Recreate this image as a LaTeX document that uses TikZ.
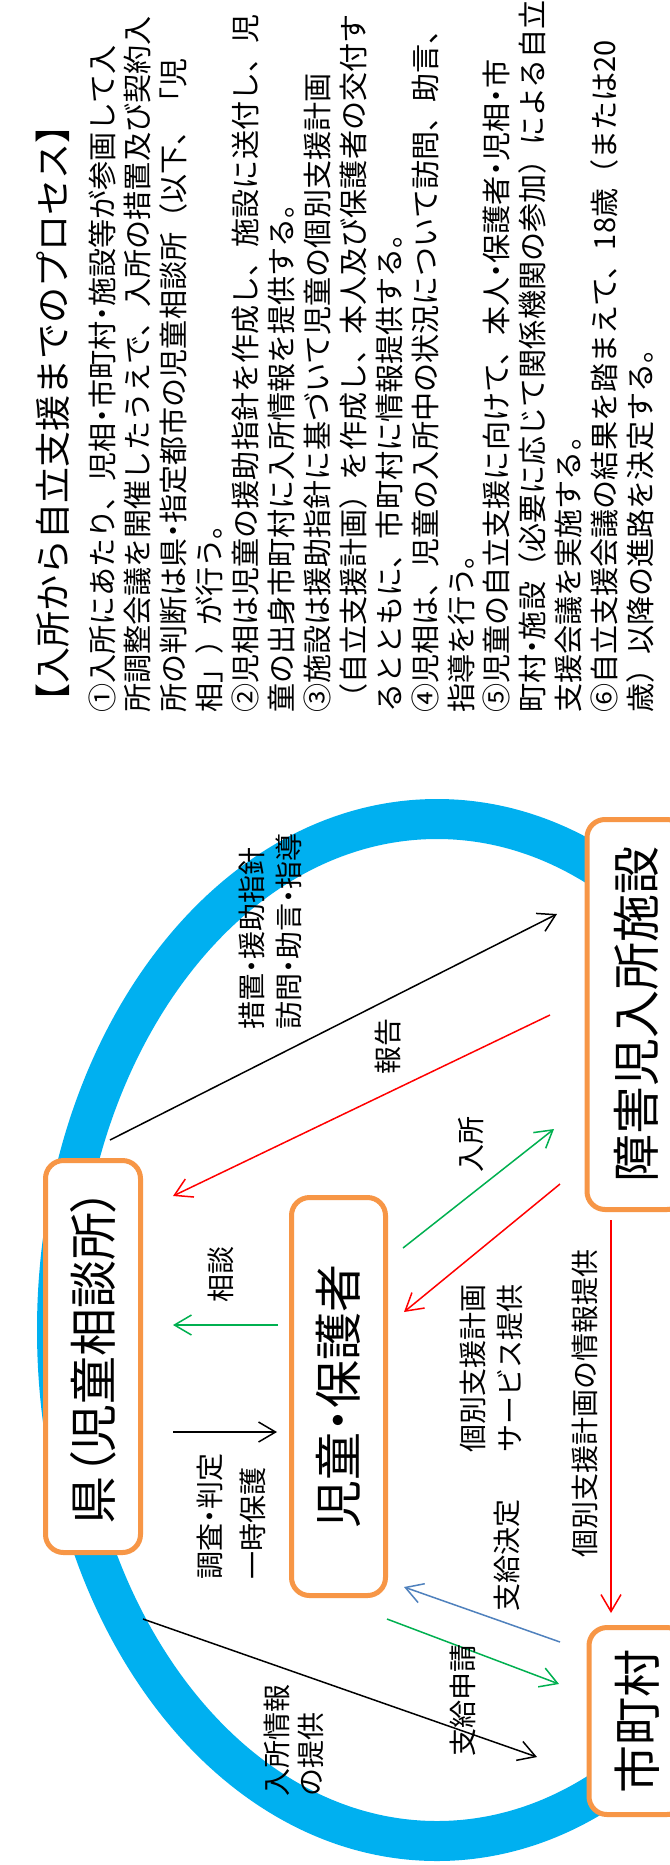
\documentclass[tikz,border=0pt]{standalone}
\usepackage{fontspec}
\setmainfont{Noto Sans CJK JP}
\newfontfamily\pfont{Noto Sans CJK JP}[RawFeature=+palt]
\usetikzlibrary{arrows.meta}
\definecolor{bandc}{HTML}{00B0F0}
\definecolor{boxc}{HTML}{F79646}
\definecolor{grn}{HTML}{00B050}
\definecolor{rd}{HTML}{FF0000}
\definecolor{blu}{HTML}{4F81BD}
\newcommand\nk{\makebox[0.5em][c]{・}}
\begin{document}
\begin{tikzpicture}[x=1pt,y=-1pt,
  box/.style={draw=boxc, line width=5pt, rounded corners=18pt, fill=white, rotate=90, inner sep=0pt, font=\pfont\fontsize{48}{52}\selectfont},
  lbl/.style={rotate=90, anchor=west, inner sep=0pt, align=left, font=\fontsize{28}{37}\selectfont},
  bodyline/.style={rotate=90, anchor=base west, inner sep=0pt, font=\fontsize{29.1}{29.1}\selectfont},
  titleline/.style={rotate=90, anchor=base west, inner sep=0pt, font=\fontsize{36}{36}\selectfont},
  conn/.style={line width=1.5pt, -{Straight Barb[length=17pt,width=20pt,line width=1.5pt]}}]
\useasboundingbox (0,0) rectangle (669,1865);
\fill[white] (0,0) rectangle (669,1865);
\begin{scope}
\clip (0,0) rectangle (669,1865);
\draw[bandc, line width=40pt] (437,1330) ellipse [x radius=380, y radius=511];
\end{scope}
% boxes
\node[box, minimum width=392pt, minimum height=95pt] (ken) at (93,1356.5) {県（児童相談所）};
\node[box, minimum width=398pt, minimum height=94pt] (jido) at (338.5,1396.5) {児童・保護者};
\node[box, minimum width=390pt, minimum height=98pt] (shisetsu) at (636,1014.5) {障害児入所施設};
\node[box, minimum width=187pt, minimum height=96pt] (shi) at (637,1721) {市町村};
% connector end points
\coordinate (a1s) at (110,1140); \coordinate (a1e) at (557,914);
\coordinate (a2s) at (550,1015); \coordinate (a2e) at (173,1196);
\coordinate (a3s) at (278,1325); \coordinate (a3e) at (173,1325);
\coordinate (a4s) at (173,1432); \coordinate (a4e) at (277,1432);
\coordinate (a5s) at (403,1248); \coordinate (a5e) at (554,1129);
\coordinate (a6s) at (560,1184); \coordinate (a6e) at (404,1312);
\coordinate (a7s) at (611,1220); \coordinate (a7e) at (611,1613);
\coordinate (a8s) at (560,1642); \coordinate (a8e) at (404,1587);
\coordinate (a9s) at (387,1619); \coordinate (a9e) at (559,1684);
\coordinate (a10s) at (143,1619); \coordinate (a10e) at (537,1757);
\draw[conn, black] (a1s) -- (a1e);
\draw[conn, rd] (a2s) -- (a2e);
\draw[conn, grn] (a3s) -- (a3e);
\draw[conn, black] (a4s) -- (a4e);
\draw[conn, grn] (a5s) -- (a5e);
\draw[conn, rd] (a6s) -- (a6e);
\draw[conn, rd] (a7s) -- (a7e);
\draw[conn, blu] (a8s) -- (a8e);
\draw[conn, grn] (a9s) -- (a9e);
\draw[conn, black] (a10s) -- (a10e);
% labels
\node[lbl] (l_sochi) at (270,1030) {措置\nk 援助指針\\訪問\nk 助言\nk 指導};
\node[lbl] (l_hokoku) at (388,1075) {報告};
\node[lbl] (l_nyusho) at (471,1173) {入所};
\node[lbl] (l_sodan) at (221,1303) {相談};
\node[lbl, font=\fontsize{28}{43}\selectfont] (l_chosa) at (231,1580) {調査\nk 判定\\一時保護};
\node[lbl] (l_kobetsu) at (491,1453) {個別支援計画\\サービス提供};
\node[lbl] (l_joho) at (585,1558) {個別支援計画の情報提供};
\node[lbl] (l_kettei) at (507,1612) {支給決定};
\node[lbl] (l_shinsei) at (463,1757) {支給申請};
\node[lbl, font=\fontsize{28}{34}\selectfont] (l_teikyo) at (294,1797) {入所情報\\の提供};
% text block
\node[titleline] (title) at (66,720) {【入所から自立支援までのプロセス】};
\node[bodyline] (t1) at (113,713) {①入所にあたり、児相\nk 市町村\nk 施設等が参画して入};
\node[bodyline] (t2) at (148.9,713) {所調整会議を開催したうえで、入所の措置及び契約入};
\node[bodyline] (t3) at (184.8,713) {所の判断は県\nk 指定都市の児童相談所（以下、「児};
\node[bodyline] (t4) at (220.7,713) {相」）が行う。};
\node[bodyline] (t5) at (256.6,713) {②児相は児童の援助指針を作成し、施設に送付し、児};
\node[bodyline] (t6) at (292.5,713) {童の出身市町村に入所情報を提供する。};
\node[bodyline] (t7) at (328.4,713) {③施設は援助指針に基づいて児童の個別支援計画};
\node[bodyline] (t8) at (364.3,713) {（自立支援計画）を作成し、本人及び保護者の交付す};
\node[bodyline] (t9) at (400.2,713) {るとともに、市町村に情報提供する。};
\node[bodyline] (t10) at (436.1,713) {④児相は、児童の入所中の状況について訪問、助言、};
\node[bodyline] (t11) at (472,713) {指導を行う。};
\node[bodyline] (t12) at (507.9,713) {⑤児童の自立支援に向けて、本人\nk 保護者\nk 児相\nk 市};
\node[bodyline] (t13) at (543.8,713) {町村\nk 施設（必要に応じて関係機関の参加）による自立};
\node[bodyline] (t14) at (579.7,713) {支援会議を実施する。};
\node[bodyline] (t15) at (615.6,713) {⑥自立支援会議の結果を踏まえて、18歳（または20};
\node[bodyline] (t16) at (651.5,713) {歳）以降の進路を決定する。};
\end{tikzpicture}
\end{document}
